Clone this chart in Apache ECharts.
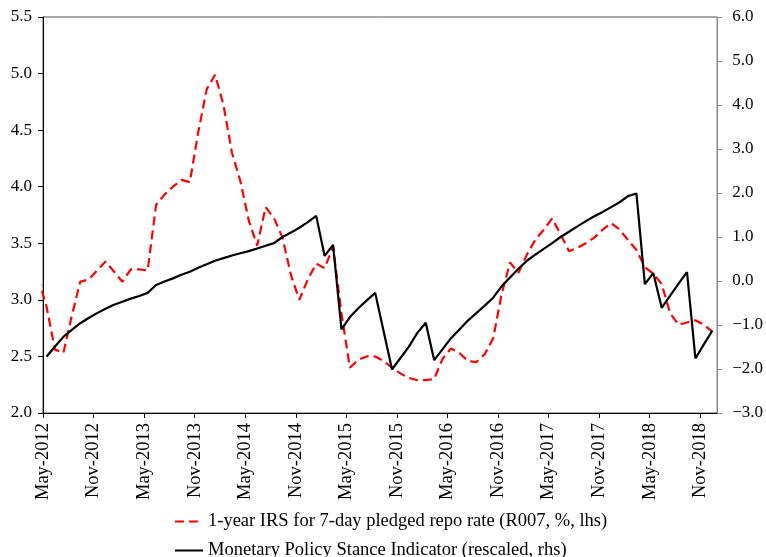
<!DOCTYPE html>
<html>
<head>
<meta charset="utf-8">
<script src="https://cdn.jsdelivr.net/npm/echarts@6/dist/echarts.min.js"></script>
<style>
  html, body { margin: 0; padding: 0; background: #fff; }
  #main { width: 766px; height: 557px; }
</style>
</head>
<body>
<div id="main"></div>
<script>
// x axis: months counted from May-2012 (0) to Jan-2019 (80)
var tickLabels = ['May-2012', 'Nov-2012', 'May-2013', 'Nov-2013', 'May-2014', 'Nov-2014', 'May-2015',
  'Nov-2015', 'May-2016', 'Nov-2016', 'May-2017', 'Nov-2017', 'May-2018', 'Nov-2018'];

// 1-year IRS (R007), %, lhs; monthly May-2012 .. Dec-2018
var irsLead = 3.2; // Apr-2012, only the tail shows inside the axis
var irs = [
  2.94, 2.56, 2.53, 2.86, 3.16, 3.18, 3.26, 3.34, 3.25, 3.16, 3.27, 3.27,
  3.26, 3.84, 3.93, 4.00, 4.06, 4.04, 4.48, 4.86, 4.99, 4.72, 4.30, 4.05,
  3.70, 3.48, 3.82, 3.72, 3.55, 3.22, 3.00, 3.18, 3.32, 3.28, 3.47, 2.88,
  2.40, 2.47, 2.50, 2.50, 2.46, 2.40, 2.35, 2.31, 2.29, 2.29, 2.30, 2.48,
  2.57, 2.53, 2.46, 2.45, 2.52, 2.66, 3.05, 3.33, 3.24, 3.40, 3.53, 3.62,
  3.72, 3.58, 3.43, 3.46, 3.50, 3.55, 3.62, 3.68, 3.62, 3.53, 3.44, 3.29,
  3.23, 3.14, 2.88, 2.78, 2.80, 2.82, 2.78, 2.72
];

// Monetary policy stance indicator, rescaled, rhs; monthly May-2012 .. Dec-2018
var stance = [
  -1.72, -1.49, -1.27, -1.11, -0.96, -0.84, -0.73, -0.63, -0.54, -0.47, -0.40, -0.34,
  -0.27, -0.09, -0.01, 0.06, 0.14, 0.21, 0.30, 0.38, 0.46, 0.52, 0.58, 0.63,
  0.68, 0.74, 0.80, 0.86, 1.00, 1.10, 1.21, 1.34, 1.48, 0.57, 0.82, -1.10,
  -0.82, -0.62, -0.44, -0.27, -1.14, -2.01, -1.75, -1.49, -1.18, -0.95, -1.80, -1.55,
  -1.30, -1.10, -0.90, -0.73, -0.56, -0.38, -0.12, 0.08, 0.28, 0.46, 0.60, 0.73,
  0.86, 1.00, 1.12, 1.24, 1.36, 1.47, 1.57, 1.68, 1.79, 1.93, 1.99, -0.07,
  0.18, -0.61, -0.33, -0.06, 0.20, -1.76, -1.44, -1.13
];

var MID_MONTH = 0.42; // observations sit mid-month
var FONT = '"Liberation Serif", "Times New Roman", serif';

var irsData = [[-1 + MID_MONTH, irsLead]].concat(irs.map(function (v, i) { return [i + MID_MONTH, v]; }));
var stanceData = stance.map(function (v, i) { return [i + MID_MONTH, v]; });
var tickValues = tickLabels.map(function (t, i) { return i * 6; });

var myChart = echarts.init(document.getElementById('main'));
myChart.setOption({
  animation: false,
  textStyle: { fontFamily: FONT, color: '#000' },
  grid: {
    left: 43, right: 47, top: 17, bottom: 144,
    show: true, borderColor: '#555', borderWidth: 1
  },
  legend: {
    orient: 'vertical',
    left: 174, top: 512, height: 60, padding: 0,
    itemWidth: 28, itemHeight: 14, itemGap: 10,
    itemStyle: { opacity: 0 },
    textStyle: { fontFamily: FONT, fontSize: 18.5, lineHeight: 16, color: '#000' },
    data: ['1-year IRS for 7-day pledged repo rate (R007, %, lhs)',
           'Monetary Policy Stance Indicator (rescaled, rhs)']
  },
  xAxis: {
    type: 'value', min: 0, max: 80,
    axisLine: { onZero: false, lineStyle: { color: '#000', width: 1 } },
    axisTick: { customValues: tickValues, length: 5, lineStyle: { color: '#000' } },
    axisLabel: {
      customValues: tickValues, rotate: 90, margin: 10,
      fontFamily: FONT, fontSize: 18.5, color: '#000',
      formatter: function (v) { return tickLabels[Math.round(v / 6)] || ''; }
    },
    splitLine: { show: false }
  },
  yAxis: [{
    type: 'value', min: 2, max: 5.5, interval: 0.5, position: 'left',
    axisLine: { show: true, lineStyle: { color: '#000', width: 1 } },
    axisTick: { show: true, length: 5, lineStyle: { color: '#000' } },
    axisLabel: {
      margin: 11, fontFamily: FONT, fontSize: 17, color: '#000',
      formatter: function (v) { return v.toFixed(1); }
    },
    splitLine: { show: false }
  }, {
    type: 'value', min: -3, max: 6, interval: 1, position: 'right',
    axisLine: { show: true, lineStyle: { color: '#888', width: 1 } },
    axisTick: { show: true, length: 5, lineStyle: { color: '#888' } },
    axisLabel: {
      margin: 15, fontFamily: FONT, fontSize: 17, color: '#000',
      formatter: function (v) { return v.toFixed(1).replace('-', '\u2212'); }
    },
    splitLine: { show: false }
  }],
  series: [{
    name: '1-year IRS for 7-day pledged repo rate (R007, %, lhs)',
    type: 'line', yAxisIndex: 0, symbol: 'none', clip: true,
    itemStyle: { color: '#ff0000' },
    lineStyle: { color: '#ff0000', width: 2.2, type: [9, 5] },
    data: irsData
  }, {
    name: 'Monetary Policy Stance Indicator (rescaled, rhs)',
    type: 'line', yAxisIndex: 1, symbol: 'none', clip: true,
    itemStyle: { color: '#000' },
    lineStyle: { color: '#000', width: 2.2 },
    data: stanceData
  }]
});
</script>
</body>
</html>
